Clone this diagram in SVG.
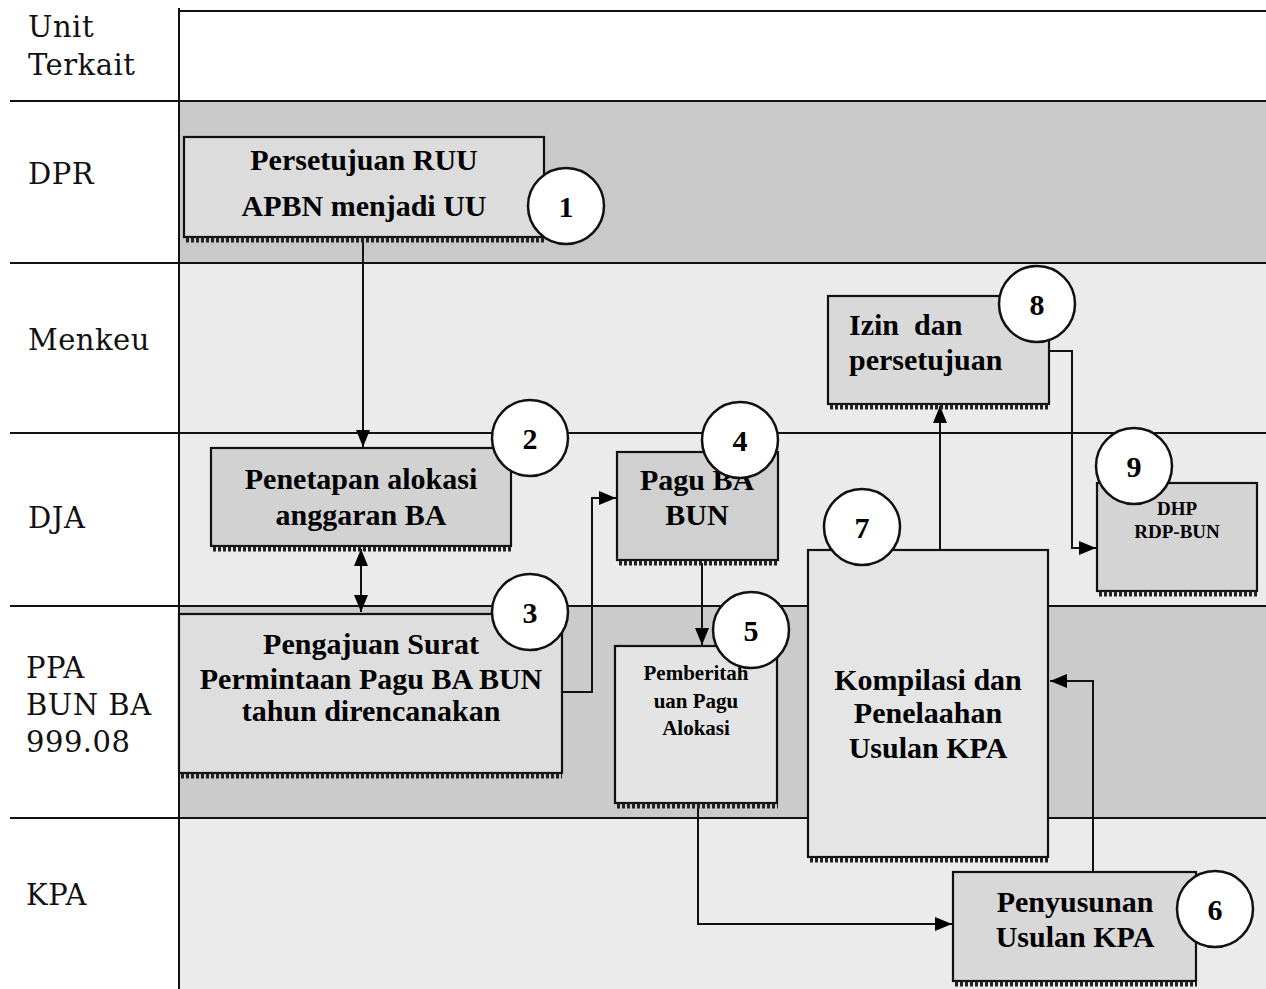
<svg xmlns="http://www.w3.org/2000/svg" width="1266" height="989" viewBox="0 0 1266 989">
<defs>
<marker id="arr" markerUnits="userSpaceOnUse" markerWidth="20" markerHeight="16" refX="17" refY="7" orient="auto-start-reverse"><path d="M0,0 L17,7 L0,14 z" fill="#000"/></marker>
<style>
.lane{font-family:"DejaVu Serif","Liberation Serif",serif;font-size:29px;letter-spacing:0.5px;fill:#111}
.bx{stroke:#111;stroke-width:2.2}
.sh{stroke:#222;stroke-width:5;stroke-dasharray:3 2}
.t{font-family:"Liberation Serif","Times New Roman",serif;font-weight:bold;font-size:30px;fill:#000;text-anchor:middle}
.ts{font-size:21px}
.tx{font-size:19px}
.c{fill:#fff;stroke:#111;stroke-width:2.5}
.n{font-family:"Liberation Serif","Times New Roman",serif;font-weight:bold;font-size:30px;fill:#000;text-anchor:middle}
.ln{stroke:#111;stroke-width:2;fill:none}
.con{stroke:#111;stroke-width:2;fill:none}
</style>
</defs>
<rect width="1266" height="989" fill="#fff"/>
<!-- lane backgrounds -->
<rect x="179" y="102" width="1087" height="161" fill="#c9c9c9"/>
<rect x="179" y="263" width="1087" height="343" fill="#ebebeb"/>
<rect x="179" y="606" width="1087" height="212" fill="#cbcbcb"/>
<rect x="179" y="818" width="1087" height="171" fill="#ebebeb"/>
<!-- lane lines -->
<g id="lanes">
<path class="ln" d="M179,11 H1266"/>
<path class="ln" d="M179,8 V989"/>
<path class="ln" d="M10,101 H1266"/>
<path class="ln" d="M10,263 H1266"/>
<path class="ln" d="M10,433 H1266"/>
<path class="ln" d="M10,606 H1266"/>
<path class="ln" d="M10,818 H1266"/>
<text class="lane" x="28" y="37">Unit</text>
<text class="lane" x="28" y="75">Terkait</text>
<text class="lane" x="28" y="184">DPR</text>
<text class="lane" x="28" y="350">Menkeu</text>
<text class="lane" x="28" y="528">DJA</text>
<text class="lane" x="26" y="678">PPA</text>
<text class="lane" x="26" y="715">BUN BA</text>
<text class="lane" x="26" y="752">999.08</text>
<text class="lane" x="26" y="905">KPA</text>
</g>
<!-- connectors -->
<g id="connectors">
<path class="con" d="M363,240 V447" marker-end="url(#arr)"/>
<path class="con" d="M361,549 V612" marker-start="url(#arr)" marker-end="url(#arr)"/>
<path class="con" d="M563,692 H592 V498 H616" marker-end="url(#arr)"/>
<path class="con" d="M702,563 V645" marker-end="url(#arr)"/>
<path class="con" d="M698,806 V924 H952" marker-end="url(#arr)"/>
<path class="con" d="M1093,872 V681 H1050" marker-end="url(#arr)"/>
<path class="con" d="M940,550 V406" marker-end="url(#arr)"/>
<path class="con" d="M1050,351 H1072 V548 H1096" marker-end="url(#arr)"/>
</g>
<!-- node 1 -->
<g id="n1">
<rect class="bx" x="184" y="137" width="360" height="100" fill="#dcdcdc"/>
<path class="sh" d="M186,240 H544"/>
<text class="t" x="364" y="170">Persetujuan RUU</text>
<text class="t" x="364" y="216">APBN menjadi UU</text>
<circle class="c" cx="566" cy="206" r="38"/>
<text class="n" x="566" y="217">1</text>
</g>
<!-- node 2 -->
<g id="n2">
<rect class="bx" x="211" y="448" width="300" height="98" fill="#d2d2d2"/>
<path class="sh" d="M213,549 H511"/>
<text class="t" x="361" y="489">Penetapan alokasi</text>
<text class="t" x="361" y="525">anggaran BA</text>
<circle class="c" cx="530" cy="438" r="38"/>
<text class="n" x="530" y="449">2</text>
</g>
<!-- node 3 -->
<g id="n3">
<rect class="bx" x="179" y="614" width="383" height="159" fill="#dedede"/>
<path class="sh" d="M181,776 H562"/>
<text class="t" x="371" y="654">Pengajuan Surat</text>
<text class="t" x="371" y="689">Permintaan Pagu BA BUN</text>
<text class="t" x="371" y="721">tahun direncanakan</text>
<circle class="c" cx="530" cy="612" r="38"/>
<text class="n" x="530" y="623">3</text>
</g>
<!-- node 4 -->
<g id="n4">
<rect class="bx" x="617" y="452" width="161" height="108" fill="#d0d0d0"/>
<path class="sh" d="M619,563 H779"/>
<text class="t" x="697" y="490">Pagu BA</text>
<text class="t" x="697" y="525">BUN</text>
<circle class="c" cx="740" cy="440" r="38"/>
<text class="n" x="740" y="451">4</text>
</g>
<!-- node 5 -->
<g id="n5">
<rect class="bx" x="615" y="646" width="162" height="157" fill="#e4e4e4"/>
<path class="sh" d="M617,806 H778"/>
<text class="t ts" x="696" y="680">Pemberitah</text>
<text class="t ts" x="696" y="708">uan Pagu</text>
<text class="t ts" x="696" y="735">Alokasi</text>
<circle class="c" cx="751" cy="630" r="38"/>
<text class="n" x="751" y="641">5</text>
</g>
<!-- node 6 -->
<g id="n6">
<rect class="bx" x="953" y="872" width="243" height="109" fill="#d8d8d8"/>
<path class="sh" d="M955,984 H1197"/>
<text class="t" x="1075" y="912">Penyusunan</text>
<text class="t" x="1075" y="947">Usulan KPA</text>
<circle class="c" cx="1215" cy="909" r="38"/>
<text class="n" x="1215" y="920">6</text>
</g>
<!-- node 7 -->
<g id="n7">
<rect class="bx" x="808" y="550" width="240" height="307" fill="#e5e5e5"/>
<path class="sh" d="M810,860 H1049"/>
<text class="t" x="928" y="690">Kompilasi dan</text>
<text class="t" x="928" y="723">Penelaahan</text>
<text class="t" x="928" y="758">Usulan KPA</text>
<circle class="c" cx="862" cy="527" r="38"/>
<text class="n" x="862" y="538">7</text>
</g>
<!-- node 8 -->
<g id="n8">
<rect class="bx" x="828" y="296" width="221" height="108" fill="#d9d9d9"/>
<path class="sh" d="M830,407 H1050"/>
<text class="t" x="849" y="335" style="text-anchor:start" xml:space="preserve">Izin  dan</text>
<text class="t" x="849" y="370" style="text-anchor:start">persetujuan</text>
<circle class="c" cx="1037" cy="304" r="38"/>
<text class="n" x="1037" y="315">8</text>
</g>
<!-- node 9 -->
<g id="n9">
<rect class="bx" x="1097" y="483" width="160" height="108" fill="#d4d4d4"/>
<path class="sh" d="M1099,594 H1257"/>
<text class="t tx" x="1177" y="515">DHP</text>
<text class="t tx" x="1177" y="538">RDP-BUN</text>
<circle class="c" cx="1134" cy="466" r="38"/>
<text class="n" x="1134" y="477">9</text>
</g>
</svg>
